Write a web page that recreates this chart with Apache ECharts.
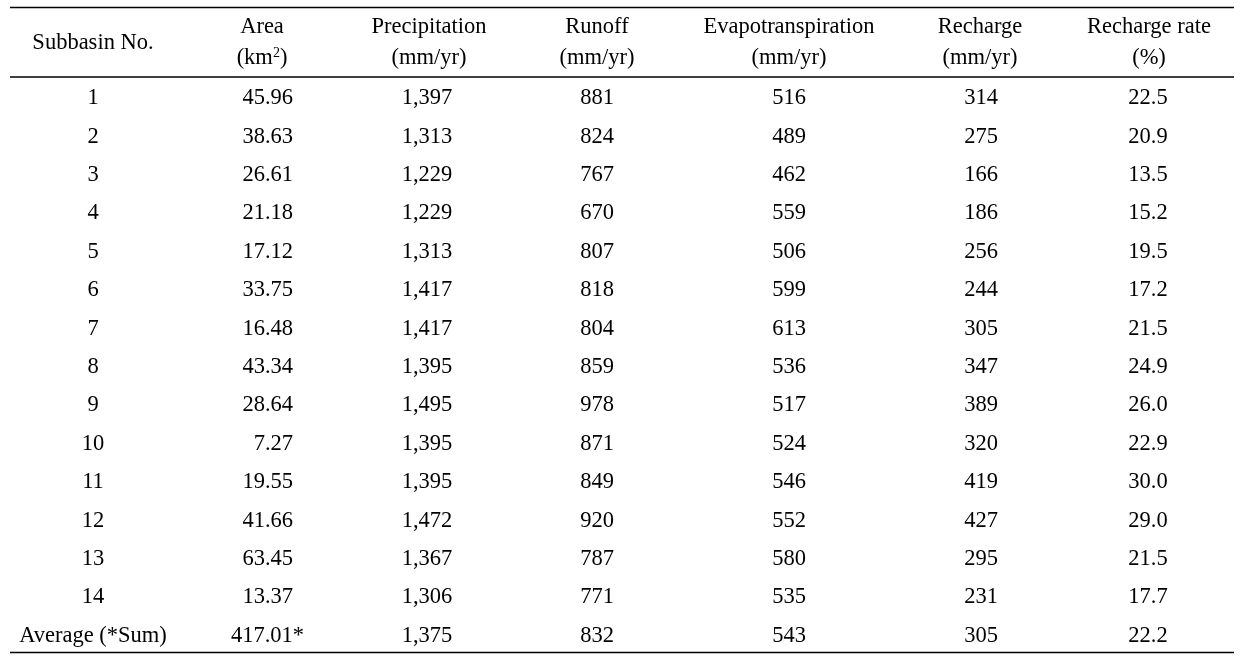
<!DOCTYPE html>
<html>
<head>
<meta charset="utf-8">
<script src="https://cdn.jsdelivr.net/npm/echarts@6/dist/echarts.min.js"></script>
<style>
html,body{margin:0;padding:0;background:#fff;}
#chart{width:1244px;height:663px;}
</style>
</head>
<body>
<div id="chart"></div>
<script>
// ---- data ----
const subbasins = ['1','2','3','4','5','6','7','8','9','10','11','12','13','14','Average (*Sum)'];
const area = [45.96, 38.63, 26.61, 21.18, 17.12, 33.75, 16.48, 43.34, 28.64, 7.27, 19.55, 41.66, 63.45, 13.37, 417.01];
const precipitation = [1397, 1313, 1229, 1229, 1313, 1417, 1417, 1395, 1495, 1395, 1395, 1472, 1367, 1306, 1375];
const runoff = [881, 824, 767, 670, 807, 818, 804, 859, 978, 871, 849, 920, 787, 771, 832];
const evapotranspiration = [516, 489, 462, 559, 506, 599, 613, 536, 517, 524, 546, 552, 580, 535, 543];
const recharge = [314, 275, 166, 186, 256, 244, 305, 347, 389, 320, 419, 427, 295, 231, 305];
const rechargeRate = [22.5, 20.9, 13.5, 15.2, 19.5, 17.2, 21.5, 24.9, 26.0, 22.9, 30.0, 29.0, 21.5, 17.7, 22.2];
const headerLine1 = ['Subbasin No.', 'Area', 'Precipitation', 'Runoff', 'Evapotranspiration', 'Recharge', 'Recharge rate'];
const headerLine2 = ['', '(km{s|2})', '(mm/yr)', '(mm/yr)', '(mm/yr)', '(mm/yr)', '(%)'];

// ---- layout ----
const colX = [93, 293, 427, 597, 789, 981, 1148];
const headerX = [93, 262, 429, 597, 789, 980, 1149];
const FONT = 'Liberation Serif';
const FS = 22.5;
const COLOR = '#000';

function fmtComma(v){ return v.toLocaleString('en-US'); }

const columns = [
  {vals: subbasins, fmt: v => v, pos: 'inside'},
  {vals: area, fmt: (v, i) => v.toFixed(2) + (i === area.length - 1 ? '*' : ''), pos: 'left'},
  {vals: precipitation, fmt: fmtComma, pos: 'inside'},
  {vals: runoff, fmt: v => String(v), pos: 'inside'},
  {vals: evapotranspiration, fmt: v => String(v), pos: 'inside'},
  {vals: recharge, fmt: v => String(v), pos: 'inside'},
  {vals: rechargeRate, fmt: v => v.toFixed(1), pos: 'inside'}
];

const series = columns.map((c, ci) => ({
  type: 'scatter',
  symbolSize: 0,
  silent: true,
  itemStyle: {opacity: 1},
  data: c.vals.map((v, i) => {
    const item = {value: [colX[ci], subbasins[i]], txt: c.fmt(v, i)};
    if (ci === 1 && i === c.vals.length - 1) {
      item.label = {offset: [11, 0]};
    }
    return item;
  }),
  label: {
    show: true,
    position: c.pos,
    distance: 0,
    formatter: p => p.data.txt,
    fontFamily: FONT,
    fontSize: FS,
    color: COLOR,
    opacity: 1
  }
}));

const graphics = [];
headerLine1.forEach((t, i) => {
  graphics.push({type: 'text', x: headerX[i], y: i === 0 ? 43 : 27,
    style: {text: t, font: FS + 'px "' + FONT + '"', fill: COLOR, align: 'center', verticalAlign: 'middle'}});
});
headerLine2.forEach((t, i) => {
  if (!t) return;
  graphics.push({type: 'text', x: headerX[i], y: 58,
    style: {text: t, font: FS + 'px "' + FONT + '"', fill: COLOR, align: 'center', verticalAlign: 'middle',
      rich: {s: {fontSize: 14, fontFamily: FONT, verticalAlign: 'top', padding: [0, 0, 9, 0], fill: COLOR}}}});
});
[[7.5, 1.3], [77, 1.6], [652.5, 1.6]].forEach(([y, w]) => {
  graphics.push({type: 'line', shape: {x1: 10, y1: y, x2: 1234, y2: y}, style: {stroke: '#000', lineWidth: w}});
});

const chart = echarts.init(document.getElementById('chart'), null, {renderer: 'canvas'});
chart.setOption({
  animation: false,
  backgroundColor: '#fff',
  grid: {left: 0, right: 0, top: 79, height: 576},
  xAxis: {type: 'value', min: 0, max: 1244, show: false},
  yAxis: {type: 'category', data: subbasins, inverse: true, show: false},
  series: series,
  graphic: graphics
});
</script>
</body>
</html>
